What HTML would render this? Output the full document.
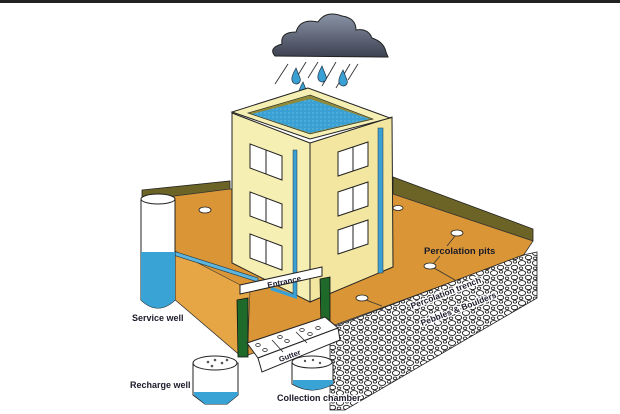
<!DOCTYPE html>
<html><head><meta charset="utf-8"><style>
html,body{margin:0;padding:0;background:#fff;}
svg{display:block;}
text{font-family:"Liberation Sans",Arial,sans-serif;font-weight:bold;fill:#1a1a2a;}
.h{stroke:#fff;stroke-width:2.5px;paint-order:stroke;}
</style></head><body>
<svg width="620" height="414" viewBox="0 0 620 414" xmlns="http://www.w3.org/2000/svg">
<defs>
<pattern id="peb" width="14" height="10" patternUnits="userSpaceOnUse">
<rect width="14" height="10" fill="#fff"/>
<ellipse cx="4" cy="3" rx="3.6" ry="2.4" fill="none" stroke="#222" stroke-width="0.9"/>
<ellipse cx="10.5" cy="7.5" rx="3.2" ry="2.2" fill="none" stroke="#222" stroke-width="0.9"/>
<ellipse cx="11" cy="1.8" rx="1.8" ry="1.3" fill="none" stroke="#222" stroke-width="0.8"/>
<ellipse cx="3" cy="8.3" rx="1.8" ry="1.3" fill="none" stroke="#222" stroke-width="0.8"/>
</pattern>
<linearGradient id="cl" x1="0" y1="0" x2="0" y2="1"><stop offset="0" stop-color="#8a93a6"/><stop offset="1" stop-color="#3c4150"/></linearGradient>
<pattern id="wat" width="4" height="4" patternUnits="userSpaceOnUse"><rect width="4" height="4" fill="#3a9fd2"/><circle cx="1" cy="1" r="0.7" fill="#6cc0e8"/></pattern>
</defs>
<rect x="0" y="0" width="620" height="3" fill="#222"/>
<!-- cloud -->
<path d="M275,56 Q268,48 282,44 Q280,32 296,32 Q300,18 318,22 Q326,10 342,16 Q356,18 356,30 Q368,28 372,38 Q384,42 386,52 L388,57 Z" fill="url(#cl)" stroke="#222" stroke-width="1"/>
<g stroke="#333" stroke-width="0.9">
<line x1="288" y1="64" x2="275" y2="84"/><line x1="306" y1="62" x2="295" y2="80"/>
<line x1="318" y1="62" x2="308" y2="78"/><line x1="336" y1="62" x2="322" y2="86"/>
<line x1="350" y1="64" x2="336" y2="88"/><line x1="358" y1="64" x2="348" y2="80"/>
</g>
<g fill="#3a9fd2" stroke="#234" stroke-width="0.7">
<path d="M296,68 Q291,77 292,80 A4.2,4.2 0 1 0 300,78 Z"/>
<path d="M322,66 Q317,75 318,78 A4.2,4.2 0 1 0 326,76 Z"/>
<path d="M343,70 Q338,79 339,82 A4.2,4.2 0 1 0 347,80 Z"/>
<path d="M303,82 Q298,91 299,94 A4.2,4.2 0 1 0 307,92 Z"/>
</g>
<polygon points="142,190 230,181 230,190 142,201" fill="#6b6426" stroke="#222" stroke-width="0.8"/>
<polygon points="393,177 533,229 533,241 393,195" fill="#6b6426" stroke="#222" stroke-width="0.8"/>
<polygon points="143,200 230,189 393,194 533,241 523,256 332,326 242,357 173,298 173,250" fill="#da9636" stroke="#333" stroke-width="0.8"/>
<polygon points="173,250 250,290 248,340 242,357 173,298" fill="#e6a646" stroke="#333" stroke-width="0.6"/>
<polygon points="330,328 523,255 537,252 537,298 345,410 330,410" fill="url(#peb)" stroke="#222" stroke-width="0.8"/>
<g fill="#fff" stroke="#222" stroke-width="0.8">
<ellipse cx="205" cy="210" rx="6" ry="3"/><ellipse cx="398" cy="208" rx="5" ry="2.5"/>
<ellipse cx="457" cy="233" rx="6" ry="3"/><ellipse cx="430" cy="266" rx="6" ry="3"/><ellipse cx="362" cy="298" rx="6" ry="3"/>
</g>
<g stroke="#333" stroke-width="0.8"><line x1="455" y1="236" x2="447" y2="246"/><line x1="434" y1="268" x2="455" y2="280"/><line x1="366" y1="300" x2="382" y2="306"/><line x1="434" y1="263" x2="440" y2="256"/></g>
<polygon points="170,250 258,278 258,282 170,254" fill="#5ab4dc" stroke="#234" stroke-width="0.6"/>
<polygon points="232,113 310,143 310,302 232,263" fill="#f6efb4" stroke="#222" stroke-width="1"/>
<polygon points="310,143 392,117 393,267 310,302" fill="#f2e6a0" stroke="#222" stroke-width="1"/>
<polygon points="308,88 232,112 310,139 390,118" fill="#f6efb4" stroke="#222" stroke-width="1"/>
<polygon points="310,95 248,113 310,134 373,119" fill="#8f8a3a" stroke="#222" stroke-width="0.6"/>
<polygon points="310,99 252,114 310,133 370,119" fill="url(#wat)"/>
<g fill="#fff" stroke="#222" stroke-width="1">
<polygon points="250,144 282,156 282,180 250,168"/><line x1="266" y1="150" x2="266" y2="174"/>
<polygon points="250,192 282,204 282,228 250,216"/><line x1="266" y1="198" x2="266" y2="222"/>
<polygon points="250,234 282,246 282,270 250,258"/><line x1="266" y1="240" x2="266" y2="264"/>
<polygon points="338,152 368,142 368,166 338,176"/><line x1="353" y1="147" x2="353" y2="171"/>
<polygon points="338,192 368,182 368,206 338,216"/><line x1="353" y1="187" x2="353" y2="211"/>
<polygon points="338,230 368,220 368,244 338,254"/><line x1="353" y1="225" x2="353" y2="249"/>
</g>
<rect x="293" y="150" width="4" height="146" fill="#3a9fd2" stroke="#234" stroke-width="0.5"/>
<polygon points="293,294 297,296 297,299 270,290 272,287" fill="#3a9fd2"/>
<rect x="378" y="128" width="5" height="145" fill="#3a9fd2" stroke="#234" stroke-width="0.5"/>
<path d="M141,200 L141,300 Q158,316 175,300 L175,200 Z" fill="#fff" stroke="#222" stroke-width="1"/>
<path d="M141,252 L175,252 L175,300 Q158,316 141,300 Z" fill="#3aa3d6"/>
<ellipse cx="158" cy="199" rx="17" ry="5" fill="#fff" stroke="#222" stroke-width="1"/>
<text x="132" y="321" font-size="9">Service well</text>
<polygon points="237,300 248,298 248,357 238,357" fill="#1f6a2a" stroke="#111" stroke-width="0.8"/>
<polygon points="320,279 330,277 330,327 321,327" fill="#1f6a2a" stroke="#111" stroke-width="0.8"/>
<polygon points="240,285 322,267 322,276 240,294" fill="#fff" stroke="#222" stroke-width="1"/>
<text x="0" y="0" font-size="8" transform="translate(268,288) rotate(-12)">Entrance</text>
<polygon points="247,343 325,317 338,328 258,358" fill="#fff" stroke="#222" stroke-width="1"/>
<polygon points="258,358 338,328 340,340 262,372" fill="#fff" stroke="#222" stroke-width="1"/>
<g fill="none" stroke="#222" stroke-width="0.8">
<ellipse cx="258" cy="345" rx="2.3" ry="1.5"/><ellipse cx="265" cy="350" rx="2.3" ry="1.5"/>
<ellipse cx="280" cy="337" rx="2.3" ry="1.5"/><ellipse cx="287" cy="341" rx="2.3" ry="1.5"/>
<ellipse cx="302" cy="330" rx="2.3" ry="1.5"/><ellipse cx="310" cy="334" rx="2.3" ry="1.5"/><ellipse cx="318" cy="328" rx="2.3" ry="1.5"/>
<line x1="272" y1="340" x2="283" y2="352"/><line x1="296" y1="332" x2="307" y2="343"/>
</g>
<text x="0" y="0" font-size="7.5" transform="translate(280,362) rotate(-20)">Gutter</text>
<path d="M193,363 L193,395 L205,404 L227,404 L238,395 L238,363 Z" fill="#fff" stroke="#222" stroke-width="1"/>
<path d="M194,392 L238,392 L238,395 L227,404 L205,404 L194,395 Z" fill="#3aa3d6"/>
<ellipse cx="215" cy="363" rx="22" ry="7" fill="#fff" stroke="#222" stroke-width="1"/>
<g fill="#555"><circle cx="208" cy="362" r="1.3"/><circle cx="215" cy="360" r="1.3"/><circle cx="222" cy="363" r="1.3"/><circle cx="212" cy="366" r="1.3"/><circle cx="227" cy="360" r="1.3"/></g>
<text x="130" y="388" font-size="9">Recharge well</text>
<path d="M292,362 L292,384 Q312,396 333,384 L333,362 Z" fill="#fff" stroke="#222" stroke-width="1"/>
<path d="M293,380 L333,380 L333,384 Q312,396 293,384 Z" fill="#3aa3d6"/>
<ellipse cx="312" cy="362" rx="20" ry="6" fill="#fff" stroke="#222" stroke-width="1"/>
<g fill="#555"><circle cx="305" cy="361" r="1.2"/><circle cx="313" cy="360" r="1.2"/><circle cx="320" cy="363" r="1.2"/></g>
<text x="277" y="401" font-size="9" class="h">Collection chamber</text>
<text x="424" y="254" font-size="9.5">Percolation pits</text>
<text x="0" y="0" font-size="8.5" class="h" transform="translate(412,309) rotate(-21)">Percolation trench</text>
<text x="0" y="0" font-size="8.5" class="h" transform="translate(422,326) rotate(-21)">Pebbles &amp; Boulders</text>
</svg>
</body></html>
